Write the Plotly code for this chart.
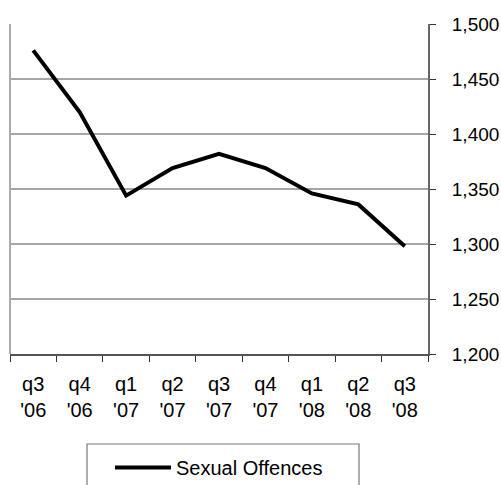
import plotly.graph_objects as go

categories = ["q3<br>'06", "q4<br>'06", "q1<br>'07", "q2<br>'07", "q3<br>'07",
              "q4<br>'07", "q1<br>'08", "q2<br>'08", "q3<br>'08"]
sexual_offences = [1476, 1420, 1344, 1369, 1382, 1369, 1346, 1336, 1298]
y_ticks = [1200, 1250, 1300, 1350, 1400, 1450, 1500]

W, H = 501, 485
ML, MR, MT, MB = 10, 73, 24, 131
FONT = "Liberation Sans, Arial, sans-serif"
FS = 20

fig = go.Figure()
fig.add_trace(go.Scatter(
    x=categories, y=sexual_offences, mode="lines", name="Sexual Offences",
    line=dict(color="#000000", width=4),
))

fig.update_layout(
    width=W, height=H,
    margin=dict(l=ML, r=MR, t=MT, b=MB, pad=0, autoexpand=False),
    paper_bgcolor="white", plot_bgcolor="white",
    font=dict(family=FONT, size=FS, color="#000000"),
    showlegend=True,
    legend=dict(
        orientation="h", xref="container", yref="container",
        x=110 / W, xanchor="left",
        y=1 - 448 / H, yanchor="top",
        bgcolor="rgba(0,0,0,0)", borderwidth=0,
        font=dict(family=FONT, size=FS, color="#000000"),
        itemwidth=56,
    ),
    xaxis=dict(
        type="category", range=[-0.5, 8.5],
        showline=True, linecolor="#555555", linewidth=1.5,
        ticks="outside", tickson="boundaries", ticklen=6, tickwidth=1.2, tickcolor="#333333",
        showgrid=False, tickfont=dict(family=FONT, size=FS, color="#000000"),
        ticklabelstandoff=11, automargin=False,
    ),
    yaxis=dict(
        side="right", range=[1200, 1500], tickvals=y_ticks, tickformat=",",
        showline=True, linecolor="#666666", linewidth=2,
        ticks="outside", ticklen=6, tickwidth=1.2, tickcolor="#333333",
        showgrid=True, gridcolor="#a6a6a6", gridwidth=2,
        zeroline=False, tickfont=dict(family=FONT, size=19, color="#000000"),
        ticklabelstandoff=12, automargin=False,
    ),
    shapes=[
        dict(type="line", xref="paper", yref="paper", x0=0, x1=0, y0=0, y1=1,
             line=dict(color="#aaaaaa", width=2)),
        dict(type="rect", xref="paper", yref="paper",
             x0=(87 - ML) / (W - ML - MR), x1=(359 - ML) / (W - ML - MR),
             y0=-(500 - (H - MB)) / (H - MT - MB), y1=-(444 - (H - MB)) / (H - MT - MB),
             line=dict(color="#777777", width=1.2), fillcolor="rgba(0,0,0,0)"),
    ],
)

fig.write_html(
    "out.html",
    config={"displayModeBar": False},
    post_script="document.body.style.margin='0';document.body.style.overflow='hidden';",
)
